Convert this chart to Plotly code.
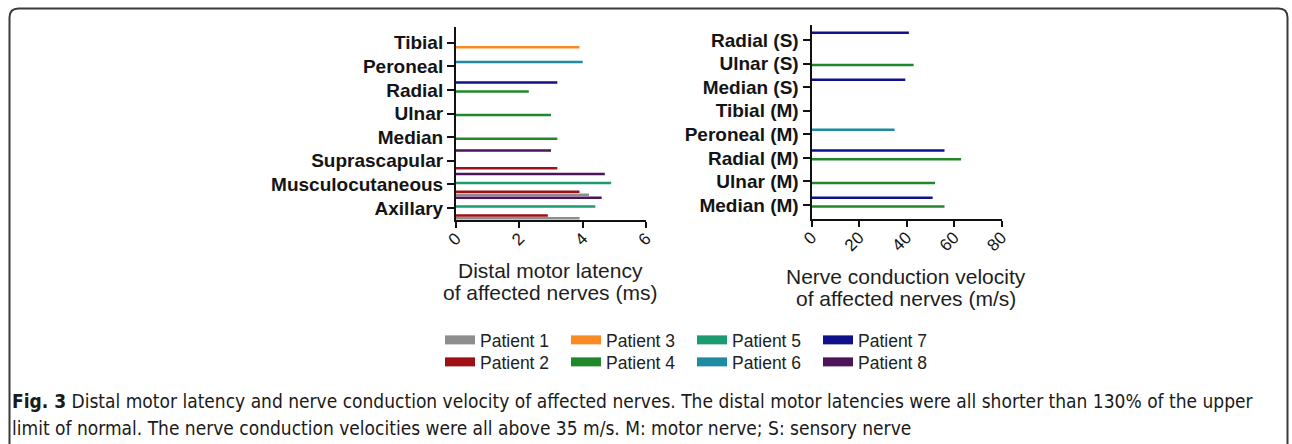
import plotly.graph_objects as go

W, H = 1292, 444

# ---------------- data ----------------
patients = ["Patient 1", "Patient 2", "Patient 3", "Patient 4",
            "Patient 5", "Patient 6", "Patient 7", "Patient 8"]
colors = ["#8e8e8e", "#9e1016", "#f98a24", "#22862a",
          "#1c9a70", "#1f8ba3", "#10118a", "#4c1559"]

# Distal motor latency (ms), categories bottom -> top
dml_nerves = ["Axillary", "Musculocutaneous", "Suprascapular", "Median",
              "Ulnar", "Radial", "Peroneal", "Tibial"]
dml_p1 = [3.9, 4.2, None, None, None, None, None, None]
dml_p2 = [2.9, 3.9, 3.2, None, None, None, None, None]
dml_p3 = [None, None, None, None, None, None, None, 3.9]
dml_p4 = [None, None, None, 3.2, 3.0, 2.3, None, None]
dml_p5 = [4.4, 4.9, None, None, None, None, None, None]
dml_p6 = [None, None, None, None, None, None, 4.0, None]
dml_p7 = [None, None, None, None, None, 3.2, None, None]
dml_p8 = [4.6, 4.7, 3.0, None, None, None, None, None]
dml_ticks = [0, 2, 4, 6]

# Nerve conduction velocity (m/s), categories bottom -> top
ncv_nerves = ["Median (M)", "Ulnar (M)", "Radial (M)", "Peroneal (M)",
              "Tibial (M)", "Median (S)", "Ulnar (S)", "Radial (S)"]
ncv_p1 = [None, None, None, None, None, None, None, None]
ncv_p2 = [None, None, None, None, None, None, None, None]
ncv_p3 = [None, None, None, None, None, None, None, None]
ncv_p4 = [56, 52, 63, None, None, None, 43, None]
ncv_p5 = [None, None, None, None, None, None, None, None]
ncv_p6 = [None, None, None, 35, None, None, None, None]
ncv_p7 = [51, None, 56, None, None, 39.5, None, 41]
ncv_p8 = [None, None, None, None, None, None, None, None]
ncv_ticks = [0, 20, 40, 60, 80]

dml_series = [dml_p1, dml_p2, dml_p3, dml_p4, dml_p5, dml_p6, dml_p7, dml_p8]
ncv_series = [ncv_p1, ncv_p2, ncv_p3, ncv_p4, ncv_p5, ncv_p6, ncv_p7, ncv_p8]

caption_1 = ("<b>Fig. 3</b> Distal motor latency and nerve conduction velocity of affected nerves. "
             "The distal motor latencies were all shorter than 130% of the upper")
caption_2 = ("limit of normal. The nerve conduction velocities were all above 35 m/s. "
             "M: motor nerve; S: sensory nerve")


# ---------------- helpers ----------------
def px(x):
    return x / W


def py(y):
    return 1 - y / H


fig = go.Figure()

for name, col, vals in zip(patients, colors, dml_series):
    fig.add_trace(go.Bar(x=vals, y=dml_nerves, orientation="h", name=name,
                         marker=dict(color=col, line=dict(width=0)),
                         showlegend=False, xaxis="x", yaxis="y"))
for name, col, vals in zip(patients, colors, ncv_series):
    fig.add_trace(go.Bar(x=vals, y=ncv_nerves, orientation="h", name=name,
                         marker=dict(color=col, line=dict(width=0)),
                         showlegend=False, xaxis="x2", yaxis="y2"))

# legend entries (column-major like the original: two rows of four)
for i, (name, col) in enumerate(zip(patients, colors)):
    fig.add_trace(go.Scatter(x=[None], y=[None], mode="lines", name=name,
                             line=dict(color=col, width=9),
                             legend="legend" if i % 2 == 0 else "legend2",
                             xaxis="x", yaxis="y", hoverinfo="skip"))

tickfont_y = dict(family="Liberation Sans, Arial, sans-serif", size=19, color="#141414")
tickfont_x = dict(family="Liberation Sans, Arial, sans-serif", size=17, color="#141414")

common_axis = dict(showline=True, linecolor="#111111", linewidth=2,
                   ticks="outside", tickcolor="#111111", tickwidth=2,
                   showgrid=False, zeroline=False, fixedrange=True)

legend_font = dict(family="Liberation Sans, Arial, sans-serif", size=17.5, color="#222222")

fig.update_layout(
    width=W, height=H,
    margin=dict(l=0, r=0, t=0, b=0, autoexpand=False),
    paper_bgcolor="white", plot_bgcolor="white",
    barmode="group", bargap=0.0, bargroupgap=0.15,
    xaxis=dict(domain=[px(456), px(646)], range=[0, 6], tickvals=dml_ticks,
               tickangle=-45, ticklen=6, tickfont=tickfont_x, anchor="y",
               ticklabelstandoff=-6,
               tickprefix="<b>", ticksuffix="</b>", **common_axis),
    yaxis=dict(domain=[py(220), py(27)], range=[-0.508, 7.666], type="category",
               categoryorder="array", categoryarray=dml_nerves,
               ticklen=7, tickfont=tickfont_y, anchor="x",
               tickprefix="<b>", ticksuffix="</b>", **common_axis),
    xaxis2=dict(domain=[px(811.5), px(1001.5)], range=[0, 80], tickvals=ncv_ticks,
                tickangle=-45, ticklen=6, tickfont=tickfont_x, anchor="y2",
                ticklabelstandoff=-6,
                tickprefix="<b>", ticksuffix="</b>", **common_axis),
    yaxis2=dict(domain=[py(219), py(25)], range=[-0.594, 7.637], type="category",
                categoryorder="array", categoryarray=ncv_nerves,
                ticklen=7, tickfont=tickfont_y, anchor="x2",
                tickprefix="<b>", ticksuffix="</b>", **common_axis),
    legend=dict(orientation="h", x=px(440), xanchor="left", y=py(340), yanchor="middle",
                entrywidth=81, entrywidthmode="pixels", itemwidth=30,
                font=legend_font, bgcolor="rgba(0,0,0,0)", traceorder="normal"),
    legend2=dict(orientation="h", x=px(440), xanchor="left", y=py(362), yanchor="middle",
                 entrywidth=81, entrywidthmode="pixels", itemwidth=30,
                 font=legend_font, bgcolor="rgba(0,0,0,0)", traceorder="normal"),
    showlegend=True,
)

title_font = dict(family="Liberation Sans, Arial, sans-serif", size=21, color="#1e1e1e")
annos = [
    dict(text="Distal motor latency", x=px(550), y=py(270)),
    dict(text="of affected nerves (ms)", x=px(550), y=py(292)),
    dict(text="Nerve conduction velocity", x=px(906), y=py(276)),
    dict(text="of affected nerves (m/s)", x=px(906), y=py(298)),
]
for a in annos:
    fig.add_annotation(xref="paper", yref="paper", xanchor="center", yanchor="middle",
                       showarrow=False, font=title_font, borderpad=0, **a)

cap_font = dict(family="Liberation Sans Narrow, DejaVu Sans Condensed, Arial, sans-serif",
                size=19, color="#1a1a1a")
fig.add_annotation(text=caption_1, xref="paper", yref="paper", x=px(10), y=py(401),
                   xanchor="left", yanchor="middle", showarrow=False, font=cap_font)
fig.add_annotation(text=caption_2, xref="paper", yref="paper", x=px(10), y=py(428),
                   xanchor="left", yanchor="middle", showarrow=False, font=cap_font)

# rounded frame of the figure panel
L, T, R, B, r = 9.5, 8.5, 1287.5, 470, 9
path = (f"M {px(L)},{py(B)} L {px(L)},{py(T + r)} Q {px(L)},{py(T)} {px(L + r)},{py(T)} "
        f"L {px(R - r)},{py(T)} Q {px(R)},{py(T)} {px(R)},{py(T + r)} L {px(R)},{py(B)}")
fig.add_shape(type="path", xref="paper", yref="paper", path=path,
              line=dict(color="#3a3a3a", width=2), layer="above")

fig.write_html(
    "out.html",
    config={"displayModeBar": False},
    post_script="document.documentElement.style.margin='0';"
                "document.body.style.margin='0';"
                "document.body.style.overflow='hidden';",
)
